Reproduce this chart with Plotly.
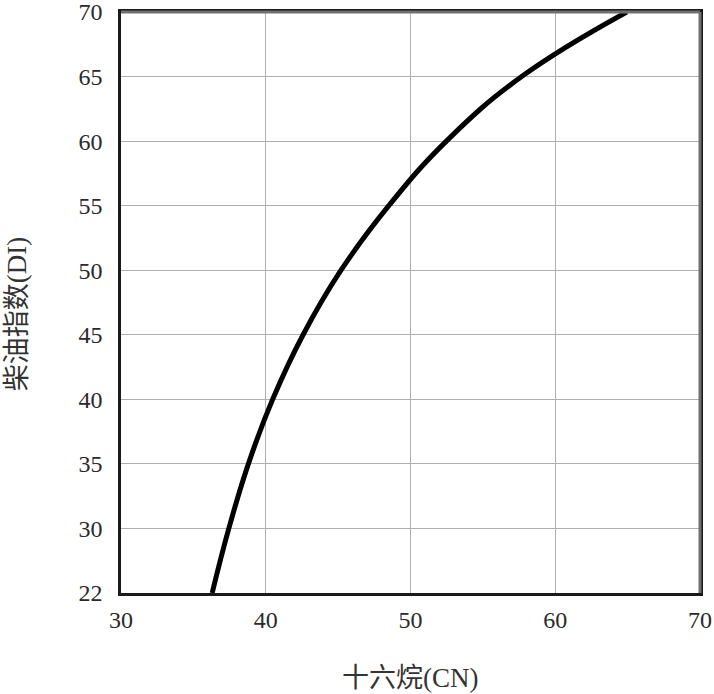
import plotly.graph_objects as go

# Curve (x: 十六烷 CN, y: axis position; bottom tick labelled 22 sits at position 25)
cn = [36.30, 37.45, 38.80, 40.48, 42.58, 45.20, 48.50, 52.48, 57.68, 64.94]
di = [25.0, 30.0, 35.0, 40.0, 45.0, 50.0, 55.0, 60.0, 65.0, 70.0]

x_ticks = [30, 40, 50, 60, 70]
y_tickvals = [25, 30, 35, 40, 45, 50, 55, 60, 65, 70]
y_ticktext = ["22", "30", "35", "40", "45", "50", "55", "60", "65", "70"]

x_title = "十六烷(CN)"
y_title = "柴油指数(DI)"

serif = "Liberation Serif, Times New Roman, Noto Sans CJK SC, serif"

fig = go.Figure()
fig.add_trace(go.Scatter(
    x=cn, y=di, mode="lines",
    line=dict(color="black", width=5, shape="spline", smoothing=1.2),
    showlegend=False, hoverinfo="skip", cliponaxis=True,
))

fig.update_layout(
    width=714, height=694,
    margin=dict(l=121, r=14, t=12, b=101, autoexpand=False),
    paper_bgcolor="white", plot_bgcolor="white",
    font=dict(family=serif, color="#222222", size=21),
    shapes=[
        dict(type="line", xref="paper", yref="paper", x0=0, x1=1, y0=1, y1=1,
             line=dict(color="#707070", width=3)),
        dict(type="line", xref="paper", yref="paper", x0=1, x1=1, y0=0, y1=1,
             line=dict(color="#707070", width=3)),
    ],
    annotations=[
        dict(text=x_title, xref="paper", yref="paper", x=0.5, y=-0.146,
             xanchor="center", yanchor="middle", showarrow=False,
             font=dict(family=serif, size=27, color="#333333")),
        dict(text=y_title, xref="paper", yref="paper", x=-0.1796, y=0.48,
             xanchor="center", yanchor="middle", showarrow=False, textangle=-90,
             font=dict(family=serif, size=27, color="#333333")),
    ],
)
fig.update_xaxes(
    range=[30, 70], tickvals=x_ticks, ticks="", automargin=False,
    showgrid=True, gridcolor="#b0b0b0", gridwidth=1.3,
    showline=True, linecolor="#1a1a1a", linewidth=2.5, mirror=True,
    tickfont=dict(family=serif, size=24, color="#2a2a2a"),
    ticklabelstandoff=3, ticklabeloverflow="allow",
    zeroline=False,
)
fig.update_yaxes(
    range=[25, 70], tickvals=y_tickvals, ticktext=y_ticktext, ticks="", automargin=False,
    showgrid=True, gridcolor="#b0b0b0", gridwidth=1.3,
    showline=True, linecolor="#1a1a1a", linewidth=2.5, mirror=True,
    tickfont=dict(family=serif, size=24, color="#2a2a2a"),
    ticklabelstandoff=11, ticklabeloverflow="allow",
    zeroline=False,
)

fig.write_html("out.html", config={"displayModeBar": False},
               post_script="document.body.style.margin='0';")
